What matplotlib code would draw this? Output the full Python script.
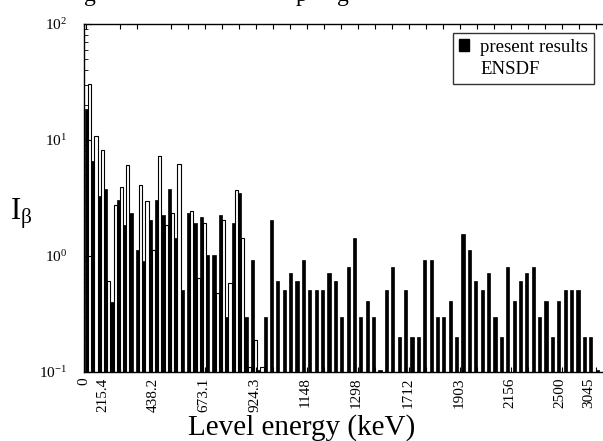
import matplotlib
matplotlib.use("Agg")
import matplotlib.pyplot as plt
import numpy as np
from matplotlib.patches import Patch
from matplotlib.ticker import LogLocator, NullFormatter

plt.rcParams["font.family"] = ["Liberation Serif", "DejaVu Serif"]
plt.rcParams["mathtext.fontset"] = "custom"
plt.rcParams["mathtext.rm"] = "Liberation Serif"
plt.rcParams["mathtext.it"] = "Liberation Serif:italic"

# beta feeding per level (present results), one value per level in order
PRESENT = [
    18.4, 6.6, 3.3, 3.8, 0.40, 3.06, 1.85, 2.35, 1.12, 0.91,
    2.04, 3.06, 2.26, 3.80, 1.43, 0.51, 2.35, 1.94, 2.15, 1.02,
    1.02, 2.26, 0.30, 1.94, 3.51, 0.30, 0.92, 0.104, 0.30, 2.04,
    0.61, 0.51, 0.71, 0.61, 0.92, 0.51, 0.51, 0.51, 0.71, 0.61,
    0.30, 0.81, 1.43, 0.30, 0.41, 0.30, 0.104, 0.51, 0.81, 0.20,
    0.51, 0.20, 0.20, 0.92, 0.92, 0.30, 0.30, 0.41, 0.20, 1.54,
    1.13, 0.61, 0.51, 0.71, 0.30, 0.20, 0.81, 0.41, 0.61, 0.71,
    0.81, 0.30, 0.41, 0.20, 0.41, 0.51, 0.51, 0.51, 0.20, 0.20,
    0.104,
]
# ENSDF values, nan where the level has no ENSDF feeding
ENSDF = [
    30.2, 10.9, 8.2, 0.61, 2.75, 3.96, 6.05, np.nan, 4.07, 2.96,
    1.12, 7.28, 1.84, 2.33, 6.21, np.nan, 2.46, 0.65, 1.91, np.nan,
    0.48, 2.03, 0.59, 3.68, 1.43, 0.111, 0.19, 0.11,
]
TICK_LABELS = ["0", "215.4", "438.2", "673.1", "924.3", "1148", "1298",
               "1712", "1903", "2156", "2500", "3045"]
TICK_POS = [-0.7, 2.3, 10.3, 18.2, 26.1, 34.0, 42.0, 50.2, 58.2, 66.1, 73.9, 78.5]

present = np.array(PRESENT)
ensdf = np.full(len(present), np.nan)
ensdf[:len(ENSDF)] = ENSDF
idx = np.arange(len(present))

fig = plt.figure(figsize=(6.03, 4.41), dpi=100)
ax = fig.add_axes([83.5 / 603, 69 / 441, 521.6 / 603, 348 / 441])

width = 0.5
ax.bar(idx - width / 2, present, width=width, color="black", edgecolor="black",
       linewidth=0.5)
ax.bar(idx + width / 2, ensdf, width=width, color="white", edgecolor="black",
       linewidth=0.8)

ax.set_yscale("log")
ax.set_ylim(0.1, 100)
ax.set_xlim(-0.62, 81.0)
ax.yaxis.set_major_locator(LogLocator(base=10, numticks=10))
ax.yaxis.set_minor_locator(LogLocator(base=10, subs=np.arange(2, 10), numticks=10))
ax.yaxis.set_minor_formatter(NullFormatter())
ax.tick_params(axis="y", which="both", direction="in", labelsize=11, pad=12)
ax.tick_params(axis="y", which="major", length=5)
ax.tick_params(axis="y", which="minor", length=3)

ax.set_xticks(TICK_POS)
ax.set_xticklabels(TICK_LABELS, rotation=90, fontsize=11)
ax.tick_params(axis="x", which="major", length=0, pad=4)
ax.set_xticks(np.arange(TICK_POS[1] - 8 / 3, 81, 8 / 3), minor=True)
ax.tick_params(axis="x", which="minor", direction="in", top=True, bottom=True,
               length=3.5, width=0.8)

for s in ax.spines.values():
    s.set_linewidth(1.0)

handles = [Patch(facecolor="black", edgecolor="black"),
           Patch(facecolor="white", edgecolor="white")]
leg = fig.legend(handles, ["present results", "ENSDF"], loc="upper right",
                 bbox_to_anchor=(594 / 603, 1 - 33 / 441), fontsize=13.5,
                 frameon=True, fancybox=False, edgecolor="black",
                 borderaxespad=0, handlelength=0.55, handleheight=0.55,
                 handletextpad=0.6, borderpad=0.3, labelspacing=0.3)
leg.get_frame().set_linewidth(1.0)

# descenders of the caption line cut off at the top edge
for x, ch in [(90, "g"), (301, "p"), (343, "g")]:
    fig.text(x / 603, 1.0 - 1 / 441, ch, ha="center", va="baseline", fontsize=17)

fig.text(0.5, 0.0, "Level energy (keV)", ha="center", va="bottom", fontsize=21)
fig.text(0.035, 0.515, r"I$_\mathregular{\beta}$", ha="center", va="center", fontsize=22)

fig.savefig("out.png", dpi=100)
